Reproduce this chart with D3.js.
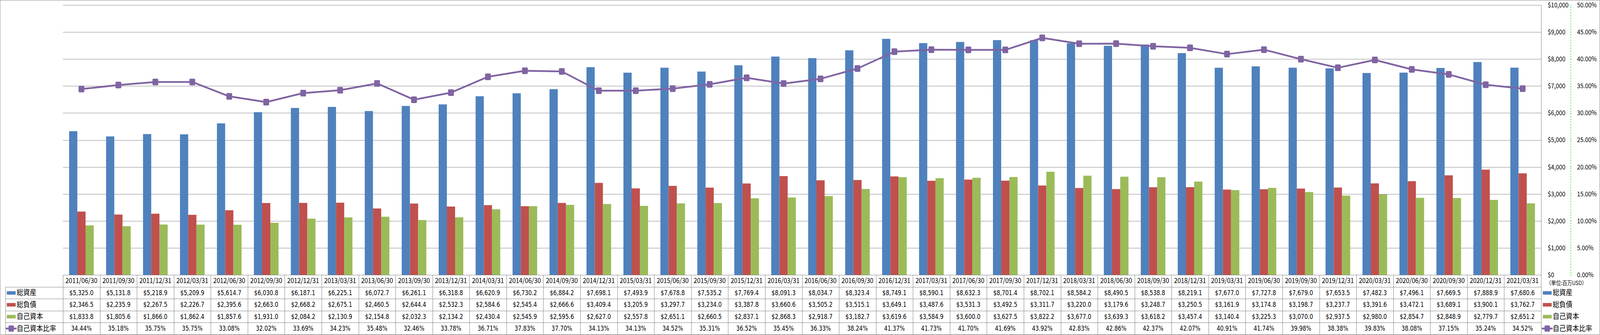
<!DOCTYPE html>
<html>
<head>
<meta charset="utf-8">
<script src="https://cdn.jsdelivr.net/npm/d3@7"></script>
<style>
  html, body { margin: 0; padding: 0; background: #fff; overflow: hidden; }
  #chart { width: 100vw; height: 100vh; }
  svg { display: block; width: 100%; height: 100%; }
  .cjk { font-family: "Noto Sans CJK JP", "Noto Sans", sans-serif; }
  .num { font-family: "Liberation Sans Narrow", "DejaVu Sans Condensed", "Liberation Sans", sans-serif; font-stretch: condensed; }
</style>
</head>
<body>
<div id="chart"></div>
<script>
// quarter-end dates
const dates = [
  "2011/06/30", "2011/09/30", "2011/12/31", "2012/03/31", "2012/06/30", "2012/09/30",
  "2012/12/31", "2013/03/31", "2013/06/30", "2013/09/30", "2013/12/31", "2014/03/31",
  "2014/06/30", "2014/09/30", "2014/12/31", "2015/03/31", "2015/06/30", "2015/09/30",
  "2015/12/31", "2016/03/31", "2016/06/30", "2016/09/30", "2016/12/31", "2017/03/31",
  "2017/06/30", "2017/09/30", "2017/12/31", "2018/03/31", "2018/06/30", "2018/09/30",
  "2018/12/31", "2019/03/31", "2019/06/30", "2019/09/30", "2019/12/31", "2020/03/31",
  "2020/06/30", "2020/09/30", "2020/12/31", "2021/03/31"
];

// 総資産 (million USD)
const totalAssets = [
  5325.0, 5131.8, 5218.9, 5209.9, 5614.7, 6030.8, 6187.1, 6225.1, 6072.7, 6261.1,
  6318.8, 6620.9, 6730.2, 6884.2, 7698.1, 7493.9, 7678.8, 7535.2, 7769.4, 8091.3,
  8034.7, 8323.4, 8749.1, 8590.1, 8632.3, 8701.4, 8702.1, 8584.2, 8490.5, 8538.8,
  8219.1, 7677.0, 7727.8, 7679.0, 7653.5, 7482.3, 7496.1, 7669.5, 7888.9, 7680.6
];

// 総負債
const totalLiabilities = [
  2346.5, 2235.9, 2267.5, 2226.7, 2395.6, 2663.0, 2668.2, 2675.1, 2460.5, 2644.4,
  2532.3, 2584.6, 2545.4, 2666.6, 3409.4, 3205.9, 3297.7, 3234.0, 3387.8, 3660.6,
  3505.2, 3515.1, 3649.1, 3487.6, 3531.3, 3492.5, 3311.7, 3220.0, 3179.6, 3248.7,
  3250.5, 3161.9, 3174.8, 3198.7, 3237.7, 3391.6, 3472.1, 3689.1, 3900.1, 3762.7
];

// 自己資本
const equity = [
  1833.8, 1805.6, 1866.0, 1862.4, 1857.6, 1931.0, 2084.2, 2130.9, 2154.8, 2032.3,
  2134.2, 2430.4, 2545.9, 2595.6, 2627.0, 2557.8, 2651.1, 2660.5, 2837.1, 2868.3,
  2918.7, 3182.7, 3619.6, 3584.9, 3600.0, 3627.5, 3822.2, 3677.0, 3639.3, 3618.2,
  3457.4, 3140.4, 3225.3, 3070.0, 2937.5, 2980.0, 2854.7, 2848.9, 2779.7, 2651.2
];

// 自己資本比率 (%)
const equityRatio = [
  34.44, 35.18, 35.75, 35.75, 33.08, 32.02, 33.69, 34.23, 35.48, 32.46,
  33.78, 36.71, 37.83, 37.70, 34.13, 34.13, 34.52, 35.31, 36.52, 35.45,
  36.33, 38.24, 41.37, 41.73, 41.70, 41.69, 43.92, 42.83, 42.86, 42.37,
  42.07, 40.91, 41.74, 39.98, 38.38, 39.83, 38.08, 37.15, 35.24, 34.52
];

const barSeries = [
  { name: "総資産", values: totalAssets, color: "#4F81BD" },
  { name: "総負債", values: totalLiabilities, color: "#C0504D" },
  { name: "自己資本", values: equity, color: "#9BBB59" }
];
const lineName = "自己資本比率";
const lineColor = "#8064A2";
const gridColor = "#868686";

const width = 4701, height = 858;
const plot = { left: 185, right: 4528, top: 13, bottom: 704 };
const rowH = 30.4;
const catRowBottom = 735;
const tableLeft = 16;

// viewBox so the whole chart always fills the window
const svg = d3.select("#chart").append("svg")
    .attr("viewBox", `0 0 ${width} ${height}`)
    .attr("preserveAspectRatio", "none");

// pick a font size so that a sample string gets the width seen in the picture
function fitSize(cls, sample, targetW) {
    const t = svg.append("text").attr("class", cls).style("font-size", "100px").text(sample);
    const w = t.node().getComputedTextLength();
    t.remove();
    return w > 0 ? 100 * targetW / w : 18;
}
const catSize = fitSize("cjk", "2011/06/30", 94);
const axisSize = fitSize("cjk", "50.00%", 58);
const numSize = fitSize("num", "$5,325.0", 71);
const legendSize = fitSize("cjk", "自己資本比率", 116);
const unitSize = fitSize("cjk", "（単位:百万USD）", 119);

// Outer chart border
svg.append("rect")
    .attr("x", 0.5).attr("y", 0.5)
    .attr("width", width - 1.5).attr("height", height - 1.5)
    .attr("fill", "none").attr("stroke", gridColor);

// Scales
const x = d3.scaleBand().domain(dates).range([plot.left, plot.right]);
const gap = x.bandwidth() * 1.5 / 4.5;
const xInner = d3.scaleBand()
    .domain(barSeries.map(s => s.name))
    .range([gap / 2, x.bandwidth() - gap / 2]);
const y = d3.scaleLinear().domain([0, 10000]).range([plot.bottom, plot.top]);
const yPct = d3.scaleLinear().domain([0, 50]).range([plot.bottom, plot.top]);

// Gridlines
svg.append("g")
    .selectAll("line")
    .data(y.ticks(10))
    .join("line")
    .attr("x1", plot.left).attr("x2", plot.right)
    .attr("y1", d => Math.round(y(d)) + 0.5)
    .attr("y2", d => Math.round(y(d)) + 0.5)
    .attr("stroke", gridColor)
    .attr("stroke-width", 1.2);

// Bars
barSeries.forEach(s => {
    svg.append("g")
        .selectAll("rect")
        .data(s.values)
        .join("rect")
        .attr("x", (d, i) => x(dates[i]) + xInner(s.name))
        .attr("width", xInner.bandwidth())
        .attr("y", d => y(d))
        .attr("height", d => y(0) - y(d))
        .attr("fill", s.color);
});

// Ratio line + markers
const line = d3.line()
    .x((d, i) => x(dates[i]) + x.bandwidth() / 2)
    .y(d => yPct(d));

svg.append("path")
    .datum(equityRatio)
    .attr("d", line)
    .attr("fill", "none")
    .attr("stroke", lineColor)
    .attr("stroke-width", 4.5)
    .attr("stroke-linejoin", "round");

const mk = 17;
svg.append("g")
    .selectAll("rect")
    .data(equityRatio)
    .join("rect")
    .attr("x", (d, i) => x(dates[i]) + x.bandwidth() / 2 - mk / 2)
    .attr("y", d => yPct(d) - mk / 2)
    .attr("width", mk).attr("height", mk)
    .attr("rx", 3)
    .attr("fill", lineColor);

// Primary axis ($), labels on right
const yAxis = svg.append("g")
    .attr("transform", `translate(${plot.right + 0.5},0)`)
    .call(d3.axisRight(y).ticks(10).tickSize(0).tickPadding(19).tickFormat(d3.format("$,.0f")));
yAxis.select(".domain").attr("stroke", gridColor).attr("stroke-width", 1.2)
    .attr("d", `M0,${plot.top}V${height - 2}`);
yAxis.selectAll("text")
    .attr("class", "cjk")
    .style("font-size", axisSize + "px")
    .attr("fill", "#000");

// Secondary axis (%), green dashed
const pAxis = svg.append("g")
    .attr("transform", `translate(${4614.5},0)`)
    .call(d3.axisRight(yPct).ticks(10).tickSize(3).tickSizeOuter(3).tickPadding(16)
        .tickFormat(d => d3.format(".2f")(d) + "%"));
pAxis.select(".domain")
    .attr("stroke", "#00E000")
    .attr("stroke-dasharray", "4,3")
    .attr("stroke-width", 1.2);
pAxis.selectAll(".tick line").attr("stroke", "#00E000");
pAxis.selectAll("text")
    .attr("class", "cjk")
    .style("font-size", axisSize + "px")
    .attr("fill", "#000");

// Unit note
svg.append("text")
    .attr("class", "cjk")
    .attr("x", 4543).attr("y", 726)
    .attr("dominant-baseline", "middle")
    .style("font-size", unitSize + "px")
    .text("（単位:百万USD）");

// ---- Data table ----
const table = svg.append("g");
const rowTops = d3.range(5).map(i => catRowBottom + i * rowH);
const tableBottom = rowTops[4];

// horizontal lines
table.append("line")
    .attr("x1", plot.left).attr("x2", plot.right)
    .attr("y1", plot.bottom + 0.5).attr("y2", plot.bottom + 0.5)
    .attr("stroke", gridColor).attr("stroke-width", 1.2);
table.selectAll("line.h")
    .data(rowTops)
    .join("line")
    .attr("class", "h")
    .attr("x1", tableLeft).attr("x2", plot.right)
    .attr("y1", d => Math.round(d) + 0.5).attr("y2", d => Math.round(d) + 0.5)
    .attr("stroke", gridColor).attr("stroke-width", 1.2);

// vertical lines
table.selectAll("line.v")
    .data(dates.map(d => x(d)))
    .join("line")
    .attr("class", "v")
    .attr("x1", d => Math.round(d) + 0.5).attr("x2", d => Math.round(d) + 0.5)
    .attr("y1", plot.bottom).attr("y2", tableBottom)
    .attr("stroke", gridColor).attr("stroke-width", 1.2);
table.append("line")
    .attr("x1", tableLeft + 0.5).attr("x2", tableLeft + 0.5)
    .attr("y1", catRowBottom).attr("y2", tableBottom)
    .attr("stroke", gridColor).attr("stroke-width", 1.2);

// category labels
table.selectAll("text.cat")
    .data(dates)
    .join("text")
    .attr("class", "cjk")
    .attr("x", d => x(d) + x.bandwidth() / 2)
    .attr("y", (plot.bottom + catRowBottom) / 2 + 1)
    .attr("text-anchor", "middle")
    .attr("dominant-baseline", "middle")
    .style("font-size", catSize + "px")
    .text(d => d);

// value rows
const fmtMoney = d3.format("$,.1f");
const rows = [
    ...barSeries.map(s => ({ name: s.name, color: s.color, values: s.values, fmt: fmtMoney, line: false })),
    { name: lineName, color: lineColor, values: equityRatio, fmt: d => d3.format(".2f")(d) + "%", line: true }
];

rows.forEach((r, ri) => {
    const cy = rowTops[ri] + rowH / 2;
    table.append("g")
        .selectAll("text")
        .data(r.values)
        .join("text")
        .attr("class", "num")
        .attr("x", (d, i) => x(dates[i]) + x.bandwidth() / 2)
        .attr("y", cy + 1)
        .attr("text-anchor", "middle")
        .attr("dominant-baseline", "middle")
        .style("font-size", numSize + "px")
        .text(d => r.fmt(d));
});

// legend keys (inside table and on right)
function legendKey(g, r, kx, cy) {
    if (r.line) {
        g.append("line")
            .attr("x1", kx - 3).attr("x2", kx + 29)
            .attr("y1", cy).attr("y2", cy)
            .attr("stroke", r.color).attr("stroke-width", 4.5);
        g.append("rect")
            .attr("x", kx + 13 - 8).attr("y", cy - 8)
            .attr("width", 16).attr("height", 16).attr("rx", 3)
            .attr("fill", r.color);
    } else {
        g.append("rect")
            .attr("x", kx).attr("y", cy - 4.5)
            .attr("width", 26).attr("height", 9)
            .attr("fill", r.color);
    }
    g.append("text")
        .attr("class", "cjk")
        .attr("x", kx + 29).attr("y", cy + 1)
        .attr("dominant-baseline", "middle")
        .style("font-size", legendSize + "px")
        .text(r.name);
}

rows.forEach((r, ri) => {
    const cy = rowTops[ri] + rowH / 2;
    legendKey(table.append("g"), r, 20, cy);
    legendKey(svg.append("g"), r, 4533, cy);
});
</script>
</body>
</html>
